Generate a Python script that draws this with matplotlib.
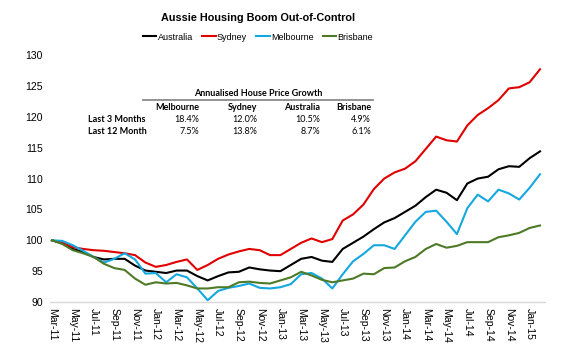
#!/usr/bin/env python
# coding:utf8
"""
Aussie housing boom chart (index, Mar-11 = 100)
"""
import numpy as np
import pandas as pd
import matplotlib
matplotlib.use('Agg')
import matplotlib.pyplot as plt

plt.rcParams['font.family'] = ['Liberation Sans', 'DejaVu Sans']

# monthly points, Mar-11 .. Feb-15
months = pd.date_range('2011-03-01', periods=48, freq='MS')

australia = [100.0, 99.5, 98.6, 98.1, 97.3, 96.9, 97.0, 97.0, 95.9, 95.1,
             94.9, 94.7, 95.1, 95.1, 94.2, 93.5, 94.2, 94.8, 94.9, 95.6,
             95.3, 95.1, 95.0, 96.0, 97.0, 97.3, 96.7, 96.5, 98.6, 99.6,
             100.6, 101.8, 102.9, 103.6, 104.6, 105.6, 107.0, 108.2, 107.7, 106.5,
             109.2, 110.0, 110.3, 111.5, 112.0, 111.9, 113.3, 114.4]
sydney = [100.0, 99.6, 98.9, 98.6, 98.4, 98.3, 98.1, 97.9, 97.6, 96.4,
          95.7, 96.0, 96.5, 96.9, 95.2, 96.0, 97.0, 97.7, 98.2, 98.6,
          98.4, 97.6, 97.6, 98.6, 99.6, 100.3, 99.7, 100.2, 103.2, 104.2,
          105.8, 108.3, 110.0, 111.0, 111.6, 112.8, 114.8, 116.8, 116.2, 116.0,
          118.6, 120.3, 121.4, 122.7, 124.6, 124.8, 125.6, 127.7]
melbourne = [100.0, 99.9, 99.2, 98.3, 97.3, 96.4, 97.0, 97.9, 96.9, 94.6,
             94.7, 93.2, 94.5, 94.0, 92.2, 90.3, 91.8, 92.3, 92.6, 93.0,
             92.3, 92.2, 92.4, 92.9, 94.5, 94.7, 93.8, 92.2, 94.5, 96.6,
             97.8, 99.2, 99.2, 98.6, 100.8, 103.0, 104.6, 104.8, 103.0, 101.0,
             105.2, 107.4, 106.3, 108.2, 107.6, 106.6, 108.5, 110.7]
brisbane = [100.0, 99.4, 98.4, 97.9, 97.3, 96.2, 95.5, 95.2, 93.8, 92.8,
            93.2, 93.0, 93.1, 92.7, 92.2, 92.2, 92.4, 92.4, 93.2, 93.3,
            93.1, 93.0, 93.5, 94.0, 94.9, 94.3, 93.6, 93.2, 93.5, 93.8,
            94.6, 94.5, 95.5, 95.6, 96.6, 97.3, 98.6, 99.4, 98.8, 99.1,
            99.7, 99.7, 99.7, 100.5, 100.8, 101.2, 102.0, 102.4]

# growth table
table_cols = ['Melbourne', 'Sydney', 'Australia', 'Brisbane']
table_rows = ['Last 3 Months', 'Last 12 Month']
table_vals = [['18.4%', '12.0%', '10.5%', '4.9%'],
              ['7.5%', '13.8%', '8.7%', '6.1%']]

series = [('Australia', australia, '#000000'),
          ('Sydney', sydney, '#E00000'),
          ('Melbourne', melbourne, '#14A7E0'),
          ('Brisbane', brisbane, '#4E7A27')]

fig = plt.figure(figsize=(5.8, 3.6), dpi=100)
ax = fig.add_axes([0.086, 0.161, 0.854, 0.686])

x = np.arange(len(months))
for name, vals, col in series:
    ax.plot(x, vals, color=col, lw=1.5, label=name)

ax.set_ylim(90, 130)
ax.set_yticks(np.arange(90, 131, 5))
ax.set_xlim(-0.2, 47.5)
ax.set_xticks(x[::2])
ax.set_xticklabels([m.strftime('%b-%y') for m in months[::2]], rotation=-90)
ax.tick_params(axis='both', length=0, labelsize=7.5)
ax.tick_params(axis='y', pad=5)
ax.tick_params(axis='x', pad=4)
for s in ['top', 'right', 'left']:
    ax.spines[s].set_visible(False)
ax.spines['bottom'].set_color('#d9d9d9')
ax.spines['bottom'].set_linewidth(1.0)

fig.text(0.445, 0.95, 'Aussie Housing Boom Out-of-Control', ha='center', va='center',
         fontsize=7.8, fontweight='bold')
fig.legend(loc='center', bbox_to_anchor=(0.445, 0.897), ncol=4, frameon=False,
           fontsize=6.5, handlelength=1.5, handletextpad=0.15, columnspacing=1.0)

# annualised growth table
tf = ['Lato', 'DejaVu Sans']
col_right = [199, 257, 320, 371]
row_y = [120, 132]

def fx(px):
    return px / 580.0

def fy(py):
    return 1 - py / 360.0

fig.text(fx(258), fy(94), 'Annualised House Price Growth', ha='center', va='center',
         fontsize=6.5, fontweight='bold', family=tf)
fig.add_artist(plt.Line2D([fx(143), fx(373)], [fy(100), fy(100)], color='#808080', lw=1.2))
for c, xr in zip(table_cols, col_right):
    fig.text(fx(xr), fy(107), c, ha='right', va='center', fontsize=6.5,
             fontweight='bold', family=tf)
for r, yr, vals in zip(table_rows, row_y, table_vals):
    fig.text(fx(88), fy(yr), r, ha='left', va='center', fontsize=6.5,
             fontweight='bold', family=tf)
    for v, xr in zip(vals, col_right):
        fig.text(fx(xr), fy(yr), v, ha='right', va='center', fontsize=6.5, family=tf)

plt.savefig('out.png', dpi=100)
